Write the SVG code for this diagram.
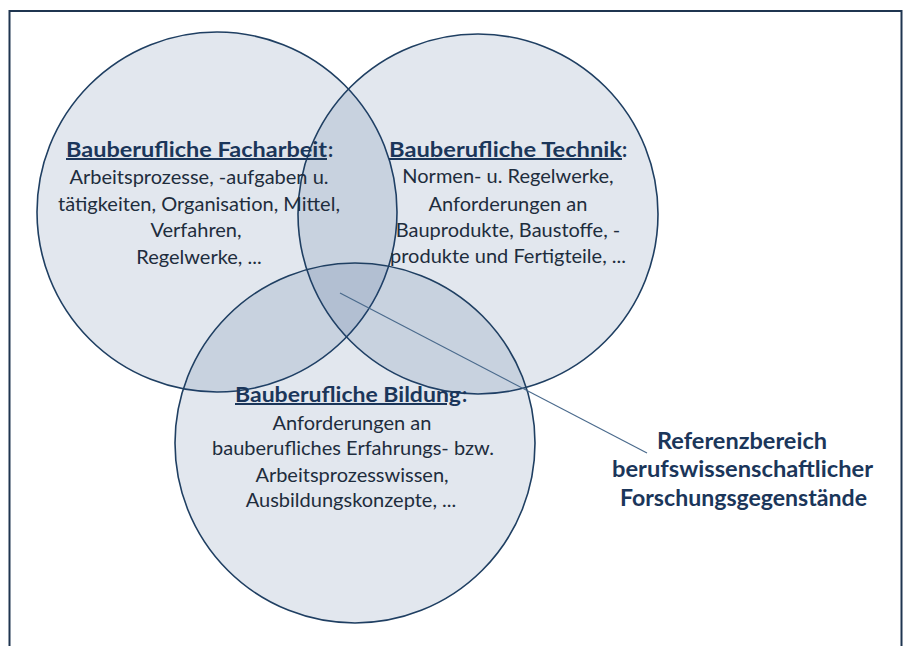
<svg xmlns="http://www.w3.org/2000/svg" width="906" height="646" viewBox="0 0 906 646">
<style>
.c{fill:#1f497d;fill-opacity:0.13;stroke:#1f3f62;stroke-width:1.6}
.t{font-family:Lato,"Liberation Sans",sans-serif;font-size:20px;fill:#1e2d3d;text-anchor:middle}
.h{font-family:Lato,"Liberation Sans",sans-serif;font-size:20px;font-weight:bold;fill:#1b365a}
.u{text-decoration:underline}
.r{font-family:Lato,"Liberation Sans",sans-serif;font-size:22px;font-weight:bold;fill:#1b365a}
</style>
<rect x="0" y="0" width="906" height="646" fill="#fff"/>
<rect x="9.5" y="11" width="892" height="660" fill="#fff" stroke="#1f3550" stroke-width="2"/>
<g id="facharbeit">
<circle class="c" cx="217" cy="212" r="180"/>
</g>
<g id="technik">
<circle class="c" cx="478" cy="214" r="180"/>
</g>
<g id="bildung">
<circle class="c" cx="355" cy="443" r="180"/>
</g>
<g id="connectors">
<line x1="340" y1="293" x2="647" y2="453" stroke="#4a6a8c" stroke-width="1.2"/>
</g>
<g id="facharbeit-text">
<text class="h u" x="66" y="157" textLength="261" lengthAdjust="spacingAndGlyphs">Bauberufliche Facharbeit</text>
<text class="h" x="328" y="157" font-weight="normal">:</text>
<text class="t" x="199" y="184">Arbeitsprozesse, -aufgaben u.</text>
<text class="t" x="199" y="211">tätigkeiten, Organisation, Mittel,</text>
<text class="t" x="196" y="237">Verfahren,</text>
<text class="t" x="199" y="264">Regelwerke, ...</text>
</g>
<g id="technik-text">
<text class="h u" x="389" y="157" textLength="233" lengthAdjust="spacingAndGlyphs">Bauberufliche Technik</text>
<text class="h" x="622" y="157">:</text>
<text class="t" x="508" y="183">Normen- u. Regelwerke,</text>
<text class="t" x="508" y="211">Anforderungen an</text>
<text class="t" x="508" y="237">Bauprodukte, Baustoffe, -</text>
<text class="t" x="508" y="263">produkte und Fertigteile, ...</text>
</g>
<g id="bildung-text">
<text class="h u" x="235" y="402" textLength="226" lengthAdjust="spacingAndGlyphs">Bauberufliche Bildung</text>
<text class="h" x="462" y="402" font-weight="normal">:</text>
<text class="t" x="352" y="430">Anforderungen an</text>
<text class="t" x="353" y="455">bauberufliches Erfahrungs- bzw.</text>
<text class="t" x="352" y="482">Arbeitsprozesswissen,</text>
<text class="t" x="351" y="507">Ausbildungskonzepte, ...</text>
</g>
<g id="referenz">
<text class="r" x="657" y="449" textLength="170" lengthAdjust="spacingAndGlyphs">Referenzbereich</text>
<text class="r" x="612" y="477" textLength="261" lengthAdjust="spacingAndGlyphs">berufswissenschaftlicher</text>
<text class="r" x="620" y="506" textLength="247" lengthAdjust="spacingAndGlyphs">Forschungsgegenstände</text>
</g>
</svg>
